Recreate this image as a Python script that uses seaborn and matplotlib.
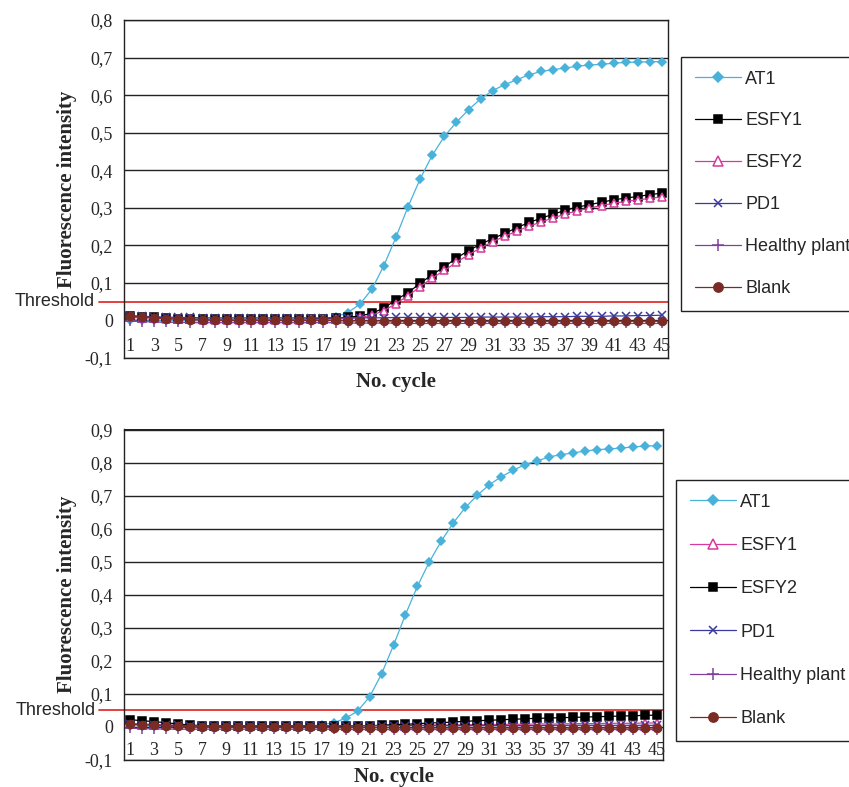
import matplotlib
matplotlib.use('Agg')
import matplotlib.pyplot as plt
import matplotlib.transforms as mtransforms
import seaborn as sns

CYCLES = list(range(1, 46))
THRESHOLD = 0.05
NAMES = ['AT1', 'ESFY1', 'ESFY2', 'PD1', 'Healthy plant', 'Blank']

# ---- upper panel ----
AT1_A = [0.002, 0.001, 0.001, 0.000, 0.000, 0.000, 0.000, 0.000, 0.000, 0.001, 0.001, 0.001, 0.001, 0.002, 0.002,
         0.003, 0.005, 0.009, 0.021, 0.043, 0.083, 0.146, 0.222, 0.303, 0.377, 0.440, 0.490, 0.528, 0.561, 0.590,
         0.612, 0.628, 0.641, 0.654, 0.663, 0.668, 0.672, 0.677, 0.680, 0.682, 0.685, 0.687, 0.688, 0.689, 0.689]
ESFY1_A = [0.012, 0.010, 0.008, 0.006, 0.005, 0.004, 0.003, 0.003, 0.003, 0.003, 0.003, 0.003, 0.003, 0.003, 0.003,
           0.004, 0.005, 0.006, 0.008, 0.012, 0.019, 0.033, 0.055, 0.074, 0.099, 0.122, 0.143, 0.166, 0.186, 0.203,
           0.218, 0.232, 0.247, 0.261, 0.272, 0.283, 0.293, 0.302, 0.308, 0.315, 0.321, 0.326, 0.330, 0.335, 0.339]
ESFY2_A = [0.008, 0.007, 0.006, 0.005, 0.004, 0.003, 0.002, 0.002, 0.002, 0.002, 0.002, 0.002, 0.002, 0.002, 0.002,
           0.003, 0.003, 0.004, 0.005, 0.008, 0.014, 0.026, 0.045, 0.066, 0.090, 0.113, 0.133, 0.155, 0.175, 0.193,
           0.210, 0.224, 0.238, 0.251, 0.262, 0.273, 0.283, 0.292, 0.299, 0.306, 0.312, 0.317, 0.321, 0.325, 0.329]
PD1_A = [0.012, 0.011, 0.010, 0.009, 0.008, 0.008, 0.007, 0.007, 0.007, 0.007, 0.007, 0.007, 0.007, 0.007, 0.007,
         0.007, 0.007, 0.007, 0.007, 0.007, 0.007, 0.007, 0.008, 0.008, 0.008, 0.008, 0.008, 0.008, 0.008, 0.009,
         0.009, 0.009, 0.009, 0.009, 0.010, 0.010, 0.010, 0.011, 0.011, 0.011, 0.012, 0.012, 0.013, 0.013, 0.014]
HEALTHY_A = [-0.002, -0.003, -0.004, -0.005, -0.005, -0.006, -0.006, -0.006, -0.006, -0.006, -0.006, -0.006, -0.006, -0.006, -0.006,
             -0.006, -0.006, -0.006, -0.007, -0.007, -0.007, -0.007, -0.007, -0.008, -0.008, -0.008, -0.008, -0.008, -0.008, -0.008,
             -0.008, -0.008, -0.008, -0.008, -0.008, -0.008, -0.008, -0.008, -0.008, -0.008, -0.008, -0.008, -0.008, -0.008, -0.008]
BLANK_A = [0.011, 0.009, 0.007, 0.005, 0.003, 0.002, 0.001, 0.001, 0.000, 0.000, 0.000, 0.000, 0.000, 0.000, 0.000,
           0.000, 0.000, 0.000, -0.001, -0.001, -0.001, -0.001, -0.002, -0.002, -0.002, -0.002, -0.002, -0.002, -0.002, -0.002,
           -0.002, -0.002, -0.002, -0.002, -0.002, -0.002, -0.002, -0.002, -0.002, -0.002, -0.002, -0.002, -0.002, -0.002, -0.002]

# ---- lower panel ----
AT1_B = [0.004, 0.003, 0.002, 0.001, 0.001, 0.000, 0.000, 0.000, 0.000, 0.000, 0.000, 0.000, 0.001, 0.001, 0.002,
         0.003, 0.006, 0.013, 0.026, 0.048, 0.091, 0.160, 0.247, 0.340, 0.426, 0.500, 0.563, 0.618, 0.664, 0.701,
         0.733, 0.757, 0.777, 0.794, 0.805, 0.817, 0.824, 0.829, 0.835, 0.839, 0.841, 0.844, 0.847, 0.850, 0.851]
ESFY1_B = [0.010, 0.009, 0.008, 0.006, 0.005, 0.004, 0.003, 0.003, 0.003, 0.003, 0.003, 0.003, 0.003, 0.003, 0.003,
           0.003, 0.003, 0.003, 0.003, 0.004, 0.004, 0.004, 0.005, 0.005, 0.005, 0.006, 0.006, 0.006, 0.007, 0.007,
           0.007, 0.008, 0.008, 0.008, 0.009, 0.009, 0.009, 0.010, 0.010, 0.010, 0.011, 0.011, 0.011, 0.012, 0.012]
ESFY2_B = [0.022, 0.019, 0.016, 0.013, 0.009, 0.006, 0.004, 0.003, 0.003, 0.003, 0.003, 0.003, 0.003, 0.003, 0.003,
           0.003, 0.003, 0.003, 0.003, 0.004, 0.004, 0.005, 0.007, 0.008, 0.010, 0.012, 0.013, 0.015, 0.017, 0.019,
           0.020, 0.022, 0.023, 0.025, 0.026, 0.027, 0.028, 0.029, 0.030, 0.031, 0.032, 0.033, 0.034, 0.035, 0.036]
PD1_B = [0.008, 0.007, 0.006, 0.005, 0.005, 0.004, 0.004, 0.004, 0.004, 0.004, 0.004, 0.004, 0.004, 0.004, 0.004,
         0.004, 0.004, 0.004, 0.004, 0.004, 0.004, 0.004, 0.004, 0.004, 0.004, 0.004, 0.004, 0.004, 0.004, 0.004,
         0.004, 0.004, 0.004, 0.004, 0.004, 0.005, 0.005, 0.005, 0.005, 0.005, 0.005, 0.005, 0.005, 0.005, 0.005]
HEALTHY_B = [-0.004, -0.005, -0.006, -0.006, -0.007, -0.007, -0.007, -0.007, -0.007, -0.007, -0.007, -0.007, -0.007, -0.007, -0.007,
             -0.007, -0.007, -0.007, -0.008, -0.008, -0.008, -0.008, -0.008, -0.008, -0.008, -0.008, -0.008, -0.008, -0.008, -0.008,
             -0.008, -0.008, -0.008, -0.008, -0.008, -0.008, -0.008, -0.008, -0.008, -0.008, -0.008, -0.008, -0.008, -0.008, -0.008]
BLANK_B = [0.009, 0.007, 0.005, 0.003, 0.002, 0.001, 0.000, 0.000, -0.001, -0.001, -0.001, -0.001, -0.001, -0.001, -0.001,
           -0.001, -0.001, -0.002, -0.002, -0.002, -0.002, -0.002, -0.002, -0.003, -0.003, -0.003, -0.003, -0.003, -0.003, -0.003,
           -0.003, -0.003, -0.003, -0.003, -0.003, -0.003, -0.003, -0.003, -0.003, -0.003, -0.003, -0.003, -0.003, -0.003, -0.003]

# marker looks: (color, marker, size, face)
LOOK_DIAMOND = ('#49B2DB', 'D', 4.4, '#49B2DB')
LOOK_SQUARE = ('#000000', 's', 5.3, '#000000')
LOOK_TRIANGLE = ('#D6399A', '^', 5.8, 'white')
LOOK_X = ('#3A3A9E', 'x', 5.5, '#3A3A9E')
LOOK_PLUS = ('#8040A0', '+', 7.0, '#8040A0')
LOOK_CIRCLE = ('#7A2C24', 'o', 5.8, '#7A2C24')

LOOKS_A = [LOOK_DIAMOND, LOOK_SQUARE, LOOK_TRIANGLE, LOOK_X, LOOK_PLUS, LOOK_CIRCLE]
LOOKS_B = [LOOK_DIAMOND, LOOK_TRIANGLE, LOOK_SQUARE, LOOK_X, LOOK_PLUS, LOOK_CIRCLE]

SERIF = 'Liberation Serif'
SANS = 'Liberation Sans'


def y_fmt(v, pos):
    if abs(v) < 1e-9:
        return '0'
    return ('%.1f' % v).replace('.', ',')


def panel(fig, rect, series, looks, ymax, legend_xy, spacing, xlab_y):
    ax = fig.add_axes(rect)
    for name, vals, (col, mk, ms, face) in zip(NAMES, series, looks):
        sns.lineplot(x=CYCLES, y=vals, ax=ax, color=col, marker=mk, markersize=ms,
                     markerfacecolor=face, markeredgecolor=col, markeredgewidth=1.1,
                     linewidth=0.9, label=name)
    ax.get_legend().remove()

    ax.set_xlim(0.5, 45.5)
    ax.set_ylim(-0.1, ymax)
    ticks = [round(-0.1 + 0.1 * i, 1) for i in range(int(round(ymax * 10)) + 2)]
    ax.set_yticks(ticks)
    ax.yaxis.set_major_formatter(plt.FuncFormatter(y_fmt))
    ax.set_xticks([])
    ax.grid(axis='y', color='#222222', linewidth=1.0)
    ax.tick_params(axis='y', direction='out', length=5, width=1, color='#222222',
                   labelsize=13, pad=3)
    for lab in ax.get_yticklabels():
        lab.set_family(SERIF)
    for sp in ax.spines.values():
        sp.set_color('#222222')
        sp.set_linewidth(1.0)

    # category labels sit just under the zero line, like the spreadsheet chart
    for c in CYCLES[::2]:
        ax.text(c, -0.07, str(c), ha='center', va='center', fontsize=13, family=SERIF)

    # threshold line and its label
    trans = mtransforms.blended_transform_factory(ax.transAxes, ax.transData)
    ax.plot([-0.046, 1.0], [THRESHOLD, THRESHOLD], transform=trans, color='#E0312F',
            linewidth=1.3, clip_on=False, zorder=1.5)
    ax.text(-0.053, THRESHOLD, 'Threshold', transform=trans, ha='right', va='center',
            fontsize=13, family=SANS)

    ax.set_ylabel('Fluorescence intensity', fontsize=15, fontweight='bold', family=SERIF)
    ax.yaxis.set_label_coords(-0.087, 0.5)
    ax.set_xlabel('No. cycle', fontsize=15, fontweight='bold', family=SERIF)
    ax.xaxis.set_label_coords(0.5, xlab_y)

    handles, labels = ax.get_legend_handles_labels()
    leg = fig.legend(handles, labels, loc='upper left', bbox_to_anchor=legend_xy,
                     frameon=True, fancybox=False, edgecolor='#222222', framealpha=1,
                     prop={'family': SANS, 'size': 13}, labelspacing=spacing,
                     handlelength=2.6, handletextpad=0.2, borderpad=0.75, borderaxespad=0,
                     markerscale=1.15)
    leg.get_frame().set_linewidth(1.0)
    return ax


def main():
    sns.set_style('white')
    fig = plt.figure(figsize=(8.49, 7.87), dpi=100)

    top = [AT1_A, ESFY1_A, ESFY2_A, PD1_A, HEALTHY_A, BLANK_A]
    bottom = [AT1_B, ESFY1_B, ESFY2_B, PD1_B, HEALTHY_B, BLANK_B]

    panel(fig, [124 / 849, 1 - 358 / 787, 544 / 849, 338 / 787], top, LOOKS_A, 0.8,
          (681 / 849, 1 - 57 / 787), 1.38, -0.04)
    panel(fig, [124 / 849, 1 - 760 / 787, 539 / 849, 330.5 / 787], bottom, LOOKS_B, 0.9,
          (676 / 849, 1 - 480 / 787), 1.46, -0.022)

    fig.savefig('out.png', dpi=100)


if __name__ == '__main__':
    main()
